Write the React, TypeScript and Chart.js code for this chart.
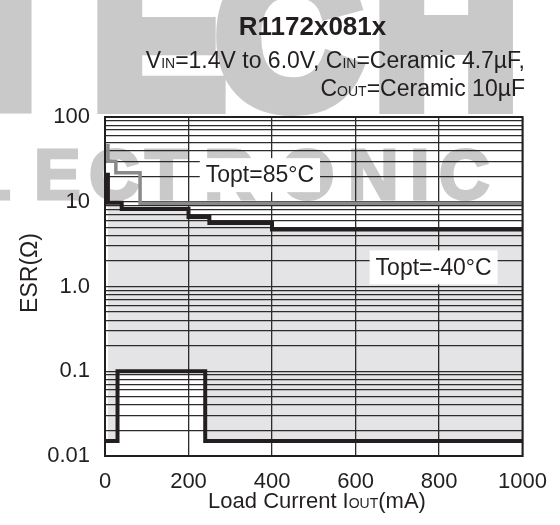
import React, { useEffect, useRef } from 'react';
import { Chart, registerables } from 'chart.js';

Chart.register(...registerables);

const FONT = '"Liberation Sans", Arial, Helvetica, sans-serif';
const INK = '#231f20';

// Topt = 85°C boundary (gray)
const hot85X = [7, 7, 26, 84, 1000];
const hot85Y = [48, 30, 22, 9.6, 9.6];
// Topt = -40°C boundary (black, upper edge of stable region)
const cold40X = [7, 7, 40, 200, 250, 400, 1000];
const cold40Y = [22, 9.7, 8.2, 6.6, 5.6, 4.7, 4.7];
// lower boundary (black)
const lowerX = [0, 30, 240, 1000];
const lowerY = [0.015, 0.1, 0.015, 0.015];

const xTicks = [0, 200, 400, 600, 800, 1000];
const xTickLabels = ['0', '200', '400', '600', '800', '1000'];
const yTickValues = [0.01, 0.1, 1, 10, 100];
const yTickLabels = ['0.01', '0.1', '1.0', '10', '100'];

const curveLabels = ['Topt=85°C', 'Topt=-40°C'];
const curveLabelX = [371, 787];
const curveLabelY = [20.6, 1.68];

const toPts = (xs: number[], ys: number[]) => xs.map((x, i) => ({ x, y: ys[i] }));

type Run = { t: string; s: number; b?: boolean };

function runsWidth(ctx: CanvasRenderingContext2D, runs: Run[]) {
  let w = 0;
  for (const r of runs) {
    ctx.font = `${r.b ? 'bold ' : ''}${r.s}px ${FONT}`;
    w += ctx.measureText(r.t).width;
  }
  return w;
}

function drawRuns(ctx: CanvasRenderingContext2D, runs: Run[], x: number, y: number, align: 'left' | 'center' | 'right') {
  const w = runsWidth(ctx, runs);
  let cx = align === 'left' ? x : align === 'center' ? x - w / 2 : x - w;
  ctx.textAlign = 'left';
  ctx.textBaseline = 'alphabetic';
  for (const r of runs) {
    ctx.font = `${r.b ? 'bold ' : ''}${r.s}px ${FONT}`;
    ctx.fillText(r.t, cx, y);
    cx += ctx.measureText(r.t).width;
  }
}

const watermarkPlugin = {
  id: 'watermark',
  beforeDraw(chart: any) {
    const ctx = chart.ctx as CanvasRenderingContext2D;
    ctx.save();
    ctx.fillStyle = '#c9c9c9';
    ctx.strokeStyle = '#c9c9c9';
    ctx.lineJoin = 'miter';
    ctx.textAlign = 'left';
    ctx.textBaseline = 'alphabetic';
    ctx.font = `bold 200px ${FONT}`;
    ctx.lineWidth = 16;
    const top: [string, number][] = [['T', -52], ['E', 92], ['C', 216], ['H', 374]];
    for (const [c, x] of top) { ctx.fillText(c, x, 106); ctx.strokeText(c, x, 106); }
    ctx.font = `bold 70px ${FONT}`;
    ctx.lineWidth = 3;
    const row: [string, number][] = [['L', -32], ['E', 34], ['C', 89], ['T', 145], ['R', 204], ['O', 280], ['N', 348], ['I', 410], ['C', 439]];
    for (const [c, x] of row) { ctx.fillText(c, x, 199); ctx.strokeText(c, x, 199); }
    ctx.restore();
  },
};

const decorPlugin = {
  id: 'decor',
  afterDraw(chart: any) {
    const ctx = chart.ctx as CanvasRenderingContext2D;
    const area = chart.chartArea;
    const xs = chart.scales.x;
    const ys = chart.scales.y;
    ctx.save();
    // frame
    ctx.strokeStyle = INK;
    ctx.lineWidth = 2;
    ctx.strokeRect(area.left, area.top, area.right - area.left, area.bottom - area.top);

    ctx.fillStyle = INK;
    // title
    drawRuns(ctx, [{ t: 'R1172x081x', s: 26, b: true }], 312.5, 35, 'center');
    // subtitle
    drawRuns(ctx, [
      { t: 'V', s: 23 }, { t: 'IN', s: 14 }, { t: '=1.4V to 6.0V, C', s: 23 }, { t: 'IN', s: 14 }, { t: '=Ceramic 4.7µF,', s: 23 },
    ], 525, 68, 'right');
    drawRuns(ctx, [{ t: 'C', s: 23 }, { t: 'OUT', s: 14 }, { t: '=Ceramic 10µF', s: 23 }], 525, 96, 'right');
    // x title
    drawRuns(ctx, [{ t: 'Load Current I', s: 22 }, { t: 'OUT', s: 14 }, { t: '(mA)', s: 22 }], 317, 508, 'center');
    // y title
    ctx.save();
    ctx.translate(37, 273);
    ctx.rotate(-Math.PI / 2);
    drawRuns(ctx, [{ t: 'ESR(Ω)', s: 23 }], 0, 0, 'center');
    ctx.restore();

    // curve labels
    ctx.font = `23px ${FONT}`;
    for (let i = 0; i < curveLabels.length; i++) {
      const px = xs.getPixelForValue(curveLabelX[i]);
      const py = ys.getPixelForValue(curveLabelY[i]);
      const w = ctx.measureText(curveLabels[i]).width;
      const bw = w + 12;
      const bh = 34;
      ctx.fillStyle = '#ffffff';
      ctx.fillRect(px - bw / 2, py - bh / 2, bw, bh);
      ctx.fillStyle = INK;
      ctx.textAlign = 'center';
      ctx.textBaseline = 'middle';
      ctx.fillText(curveLabels[i], px, py + 1);
    }
    ctx.restore();
  },
};

export default function App() {
  const ref = useRef<HTMLCanvasElement | null>(null);

  useEffect(() => {
    document.body.style.margin = '0';
    const canvas = ref.current;
    if (!canvas) return;

    const yGrid: number[] = [];
    for (let d = 0; d < yTickValues.length - 1; d++) {
      for (let k = 1; k <= 9; k++) yGrid.push(parseFloat((k * yTickValues[d]).toPrecision(4)));
    }
    yGrid.push(yTickValues[yTickValues.length - 1]);

    const chart = new Chart(canvas, {
      type: 'line',
      data: {
        datasets: [
          {
            label: 'Topt=85°C',
            data: toPts(hot85X, hot85Y),
            stepped: true,
            borderColor: '#8a8a8a',
            borderWidth: 3.5,
            pointRadius: 0,
            fill: false,
            borderJoinStyle: 'miter',
          },
          {
            label: 'Topt=-40°C',
            data: toPts(cold40X, cold40Y),
            stepped: true,
            borderColor: INK,
            borderWidth: 4,
            pointRadius: 0,
            fill: { target: 2 },
            backgroundColor: '#e4e4e6',
            borderJoinStyle: 'miter',
          },
          {
            label: 'lower',
            data: toPts(lowerX, lowerY),
            stepped: true,
            borderColor: INK,
            borderWidth: 4,
            pointRadius: 0,
            fill: false,
            borderJoinStyle: 'miter',
          },
        ],
      },
      options: {
        animation: false,
        responsive: false,
        devicePixelRatio: 1,
        layout: { padding: { top: 117, right: 37, left: 0, bottom: 0 } },
        plugins: {
          legend: { display: false },
          tooltip: { enabled: false },
          filler: { drawTime: 'beforeDraw' },
        } as any,
        scales: {
          x: {
            type: 'linear',
            min: 0,
            max: 1000,
            afterBuildTicks: (s: any) => { s.ticks = xTicks.map((v) => ({ value: v })); },
            afterFit: (s: any) => { s.height = 69; },
            ticks: {
              font: { family: FONT, size: 22 },
              color: INK,
              padding: 13,
              autoSkip: false,
              maxRotation: 0,
              callback: (v: any) => {
                const idx = xTicks.indexOf(Number(v));
                return idx >= 0 ? xTickLabels[idx] : '';
              },
            },
            grid: { color: '#2b2b2b', lineWidth: 1.3, drawTicks: false },
            border: { display: true, color: INK, width: 2 },
          },
          y: {
            type: 'logarithmic',
            min: 0.01,
            max: 100,
            afterBuildTicks: (s: any) => { s.ticks = yGrid.map((v) => ({ value: v })); },
            afterFit: (s: any) => { s.width = 105; },
            ticks: {
              font: { family: FONT, size: 22 },
              color: INK,
              padding: 15,
              autoSkip: false,
              callback: (v: any) => {
                const idx = yTickValues.findIndex((t) => Math.abs(Number(v) - t) / t < 1e-6);
                return idx >= 0 ? yTickLabels[idx] : '';
              },
            },
            grid: { color: '#2b2b2b', lineWidth: 1.3, drawTicks: false },
            border: { display: true, color: INK, width: 2 },
          },
        },
      } as any,
      plugins: [watermarkPlugin, decorPlugin],
    });
    return () => chart.destroy();
  }, []);

  return (
    <div style={{ position: 'fixed', left: 0, top: 0, width: 560, height: 525, background: '#fff' }}>
      <canvas ref={ref} width={560} height={525} style={{ width: 560, height: 525, display: 'block' }} />
    </div>
  );
}
